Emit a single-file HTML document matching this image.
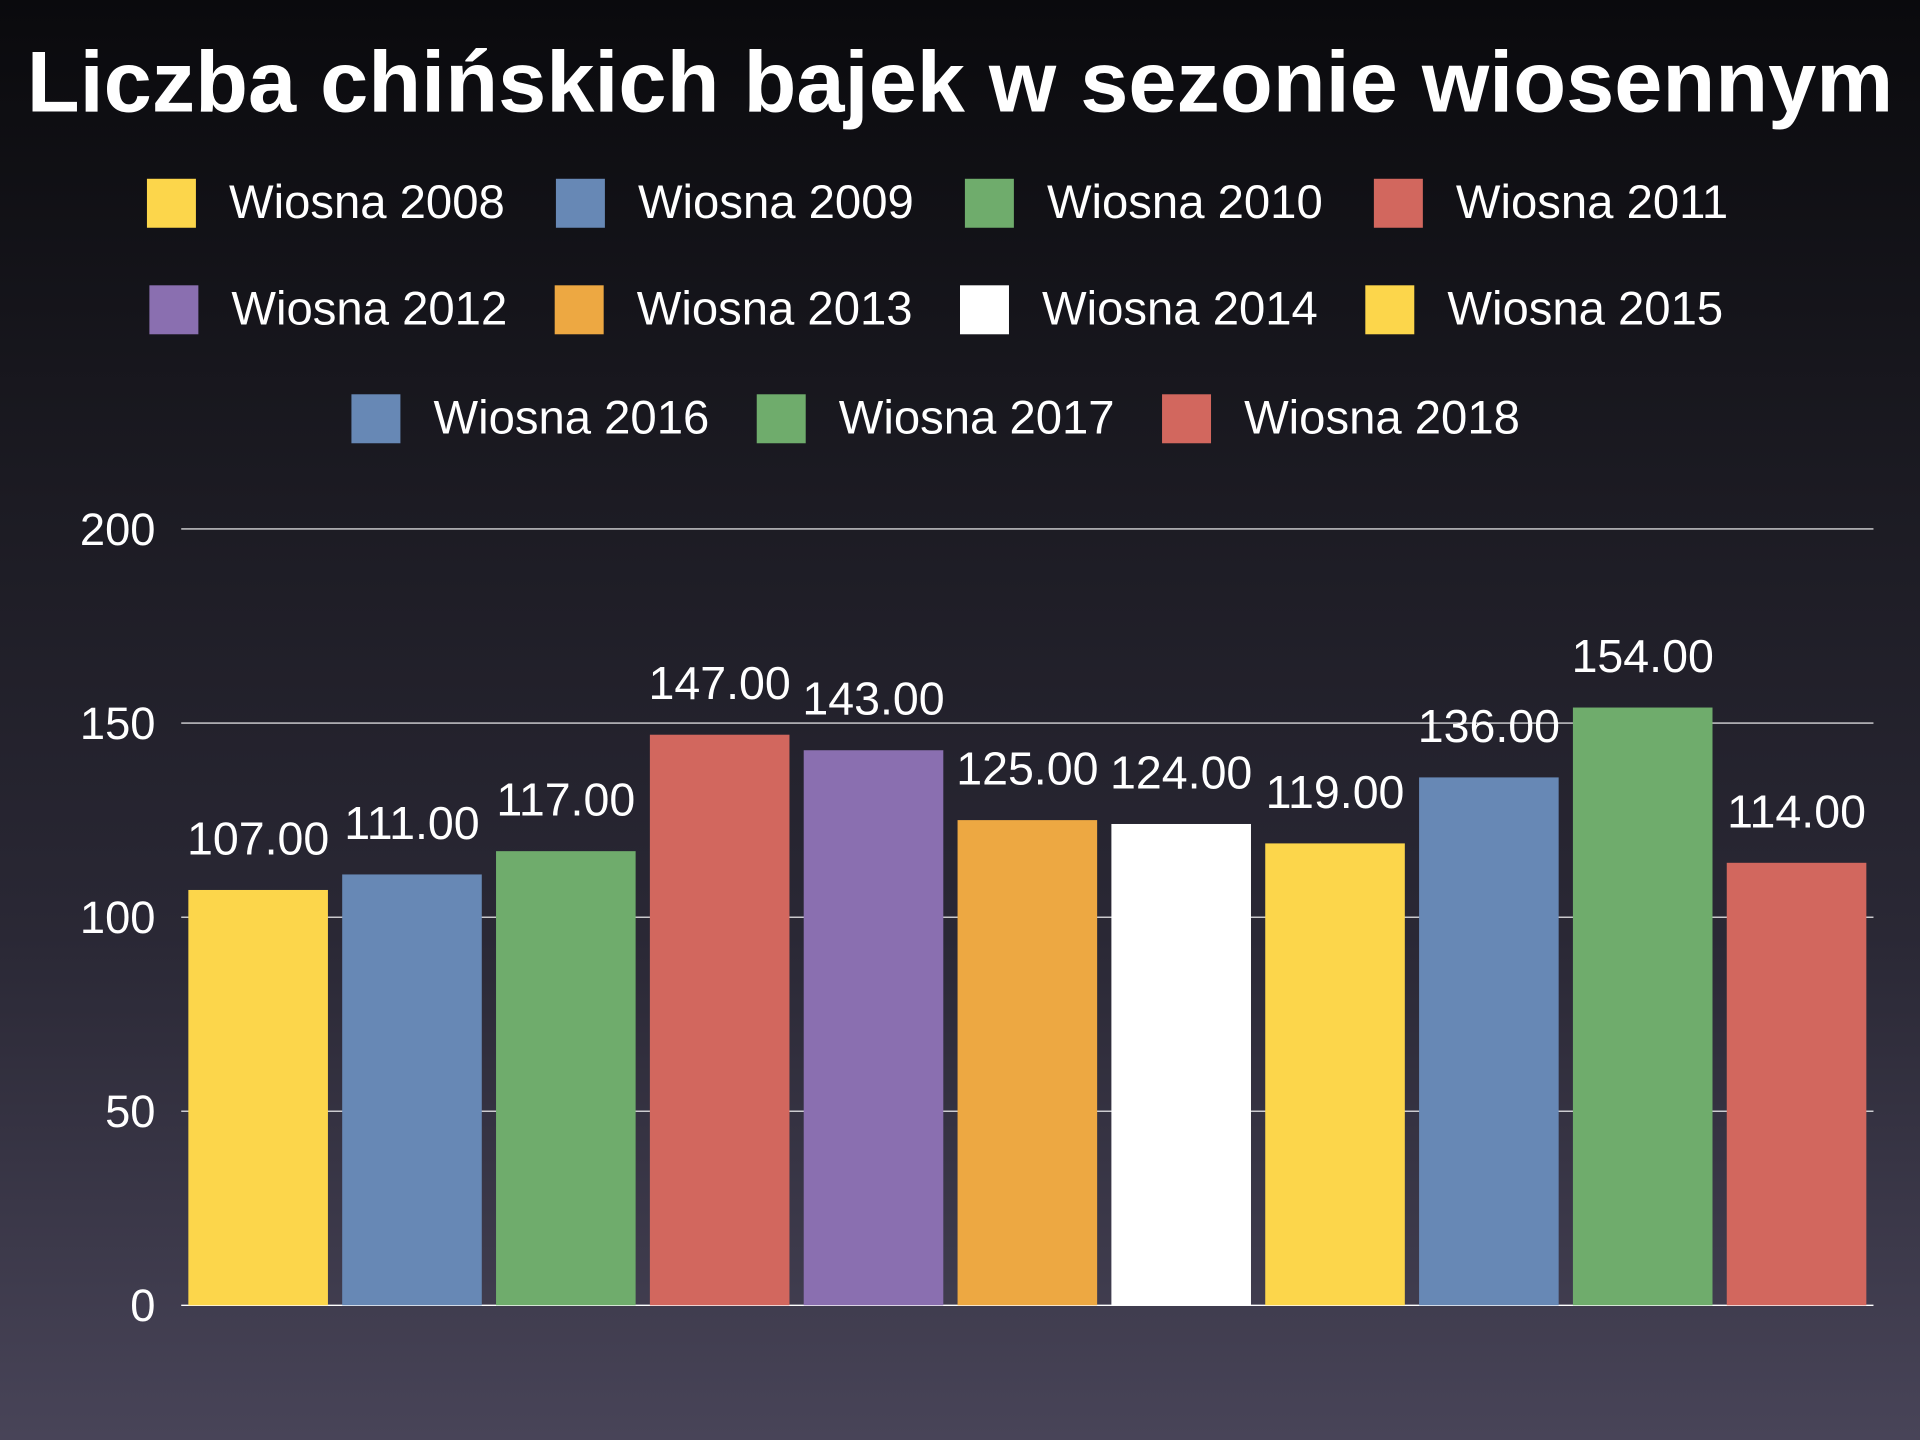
<!DOCTYPE html>
<html><head><meta charset="utf-8"><style>
html,body{margin:0;padding:0;width:1920px;height:1440px;overflow:hidden}
body{background:linear-gradient(#0a0a0d 0%,#1c1b23 35%,#2a2835 65%,#484458 100%)}
svg{display:block;font-family:"Liberation Sans",sans-serif}
</style></head><body>
<svg id="chart" width="1920" height="1440" viewBox="0 0 1568 1176" xmlns="http://www.w3.org/2000/svg">
<text x="784" y="91" text-anchor="middle" font-size="70.7" font-weight="bold" fill="#fff">Liczba chińskich bajek w sezonie wiosennym</text>
<g id="legend"></g>
<g id="grid"></g>
<g id="bars"></g>
</svg>
<script>
const categories=["Wiosna 2008","Wiosna 2009","Wiosna 2010","Wiosna 2011","Wiosna 2012","Wiosna 2013","Wiosna 2014","Wiosna 2015","Wiosna 2016","Wiosna 2017","Wiosna 2018"];
const values=[107,111,117,147,143,125,124,119,136,154,114];
const valueLabels=["107.00","111.00","117.00","147.00","143.00","125.00","124.00","119.00","136.00","154.00","114.00"];
const ticks=[0,50,100,150,200];
const colors=["#fcd64b","#6788b5","#6fac6c","#d2675e","#8a6fb0","#eda842","#ffffff","#fcd64b","#6788b5","#6fac6c","#d2675e"];
const NS="http://www.w3.org/2000/svg";
const x0=148,x1=1530,yBase=1066,yTop=432,yMax=200;
const step=(x1-x0)/categories.length, bw=114;
const y=v=>yBase-(v/yMax)*(yBase-yTop);
const xb=i=>x0+i*step+(step-bw)/2;
function mk(tag,attrs,parent){const e=document.createElementNS(NS,tag);for(const k in attrs)e.setAttribute(k,attrs[k]);parent.appendChild(e);return e;}
const grid=document.getElementById('grid'),bars=document.getElementById('bars'),leg=document.getElementById('legend');
ticks.forEach(t=>{
  const l=mk('line',{x1:x0,x2:x1,y1:y(t),y2:y(t),stroke:'#fff','stroke-width':t===0?1.2:0.9},grid);
  
  
  const tx=mk('text',{x:127,y:y(t)+13,'text-anchor':'end','font-size':37,fill:'#fff'},grid);
  tx.textContent=t;
  
  
});
values.forEach((v,i)=>{
  const r=mk('rect',{x:xb(i),y:y(v),width:bw,height:yBase-y(v),fill:colors[i]},bars);
  
  
  const t=mk('text',{x:xb(i)+bw/2,y:y(v)-29,'text-anchor':'middle','font-size':38,fill:'#fff'},bars);
  t.textContent=valueLabels[i];
  
  
});
const rows=[[0,1,2,3],[4,5,6,7],[8,9,10]];
const rowStarts=[120,122,287],rowY=[166,253,342],rowStep=[334,331,331];
rows.forEach((row,ri)=>row.forEach((ci,j)=>{
  const sx=rowStarts[ri]+j*rowStep[ri];
  const s=mk('rect',{x:sx,y:rowY[ri]-20,width:40,height:40,fill:colors[ci]},leg);
  
  
  const t=mk('text',{x:sx+67,y:rowY[ri]+12,'font-size':38.6,fill:'#fff'},leg);
  t.textContent=categories[ci];
  
  
}));
</script>
</body></html>
